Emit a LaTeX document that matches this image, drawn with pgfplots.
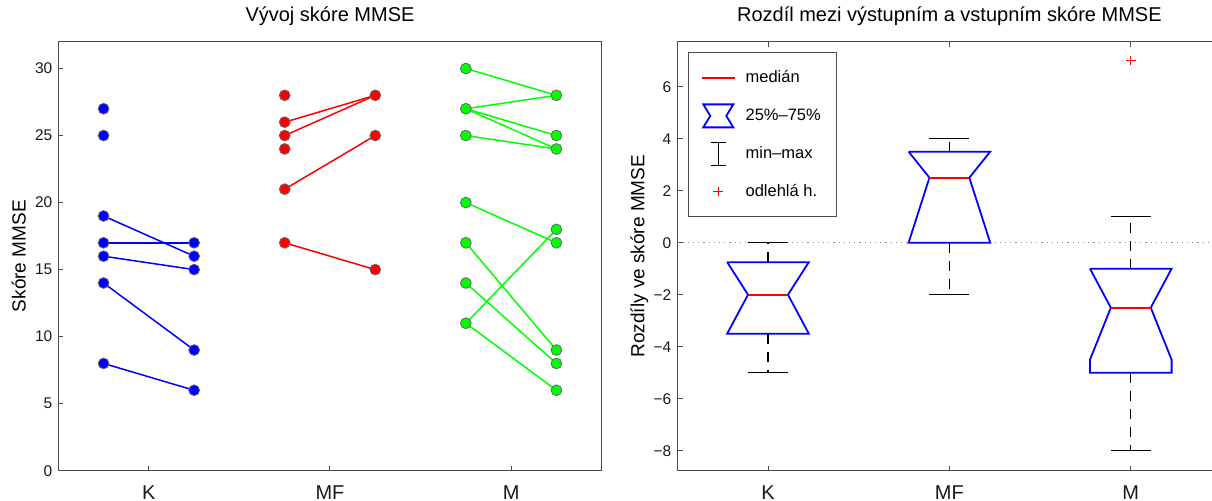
\documentclass[border=0pt]{standalone}
\usepackage{fontspec}
\setmainfont{Liberation Sans}
\usepackage{pgfplots}
\pgfplotsset{compat=1.18}
\begin{document}
\begin{tikzpicture}
\pgfplotsset{
  mlab/.style={scale only axis, anchor=south west, height=214.5pt,
    axis line style={black!70, line width=0.6pt},
    tick style={black!70, line width=0.5pt},
    tick align=inside, major tick length=2.6pt,
    xmin=0.5, xmax=3.5, xtick={1,2,3}, xticklabels={K,MF,M},
    xticklabel style={font=\fontsize{10}{12}\selectfont, anchor=base, yshift=-14.4pt, text=black!90},
    yticklabel style={font=\fontsize{7.75}{9}\selectfont, inner xsep=2.8pt, text=black!90},
    title style={font=\fontsize{10}{12}\selectfont, at={(0.5,1)}, anchor=base, yshift=4.2pt},
    ylabel style={font=\fontsize{9.5}{11}\selectfont, anchor=base},
  },
  pair/.style={no marks, line width=0.75pt, forget plot},
  dot/.style={only marks, mark=*, mark size=2.7pt, forget plot,
    mark options={draw=black!60, line width=0.4pt, fill=#1}},
  whisk/.style={black, line width=0.6pt, dash pattern=on 5pt off 4pt, no marks, forget plot},
  cap/.style={black, line width=0.6pt, no marks, forget plot},
  nbox/.style={blue, line width=0.9pt, no marks, forget plot},
  med/.style={red, line width=0.9pt, no marks, forget plot},
}
% ---------------- left: scores before / after
\begin{axis}[mlab, at={(29.15pt,14.65pt)}, width=271.7pt,
  ymin=0, ymax=32, ytick={0,5,...,30}, yticklabels={0,5,10,15,20,25,30},
  tick pos=left,
  title={Vývoj skóre MMSE}, ylabel={Skóre MMSE},
  ylabel style={at={(axis description cs:-0.06,0.5)}}]
% K
\addplot[pair, blue] coordinates {(0.75,19) (1.25,16)};
\addplot[pair, blue] coordinates {(0.75,17) (1.25,17)};
\addplot[pair, blue] coordinates {(0.75,16) (1.25,15)};
\addplot[pair, blue] coordinates {(0.75,14) (1.25,9)};
\addplot[pair, blue] coordinates {(0.75,8) (1.25,6)};
% MF
\addplot[pair, red] coordinates {(1.75,26) (2.25,28)};
\addplot[pair, red] coordinates {(1.75,25) (2.25,28)};
\addplot[pair, red] coordinates {(1.75,21) (2.25,25)};
\addplot[pair, red] coordinates {(1.75,17) (2.25,15)};
% M
\addplot[pair, green] coordinates {(2.75,30) (3.25,28)};
\addplot[pair, green] coordinates {(2.75,27) (3.25,28)};
\addplot[pair, green] coordinates {(2.75,27) (3.25,25)};
\addplot[pair, green] coordinates {(2.75,27) (3.25,24)};
\addplot[pair, green] coordinates {(2.75,25) (3.25,24)};
\addplot[pair, green] coordinates {(2.75,20) (3.25,17)};
\addplot[pair, green] coordinates {(2.75,17) (3.25,9)};
\addplot[pair, green] coordinates {(2.75,14) (3.25,8)};
\addplot[pair, green] coordinates {(2.75,11) (3.25,6)};
\addplot[pair, green] coordinates {(2.75,11) (3.25,18)};
% points
\addplot[dot=blue] coordinates {(0.75,27) (0.75,25) (0.75,19) (0.75,17) (0.75,16) (0.75,14) (0.75,8)
  (1.25,17) (1.25,16) (1.25,15) (1.25,9) (1.25,6)};
\addplot[dot=red] coordinates {(1.75,28) (1.75,26) (1.75,25) (1.75,24) (1.75,21) (1.75,17)
  (2.25,28) (2.25,25) (2.25,15)};
\addplot[dot=green] coordinates {(2.75,30) (2.75,27) (2.75,25) (2.75,20) (2.75,17) (2.75,14) (2.75,11)
  (3.25,28) (3.25,25) (3.25,24) (3.25,18) (3.25,17) (3.25,9) (3.25,8) (3.25,6)};
\end{axis}
% ---------------- right: differences, notched boxes
\begin{axis}[mlab, at={(338.65pt,14.65pt)}, width=272.1pt,
  ymin=-8.77, ymax=7.73, ytick={-8,-6,...,6}, yticklabels={−8,−6,−4,−2,0,2,4,6},
  tick pos=both,
  title={Rozdíl mezi výstupním a vstupním skóre MMSE}, ylabel={Rozdíly ve skóre MMSE},
  ylabel style={at={(axis description cs:-0.0605,0.5)}},
  legend style={at={(0.0202,0.975)}, anchor=north west, draw=black!70, line width=0.5pt,
    font=\fontsize{8.25}{9.9}\selectfont, inner xsep=6pt, inner ysep=6.8pt, row sep=6.9pt,
    /tikz/every odd column/.append style={column sep=3pt}},
  legend cell align=left]
\addlegendimage{legend image code/.code={\draw[red, line width=0.9pt] (0pt,0pt) -- (16.5pt,0pt);}}
\addlegendentry{medián}
\addlegendimage{legend image code/.code={\draw[blue, line width=0.9pt] (0.8pt,5.75pt) -- (15.8pt,5.75pt) -- (12.3pt,0pt) -- (15.8pt,-5.75pt) -- (0.8pt,-5.75pt) -- (4.3pt,0pt) -- cycle;}}
\addlegendentry{25\%–75\%}
\addlegendimage{legend image code/.code={\draw[black, line width=0.6pt] (8.25pt,-5.75pt) -- (8.25pt,5.75pt) (4.5pt,5.75pt) -- (12pt,5.75pt) (4.5pt,-5.75pt) -- (12pt,-5.75pt);}}
\addlegendentry{min–max}
\addlegendimage{legend image code/.code={\draw[red, line width=0.6pt] (5.9pt,0pt) -- (10.6pt,0pt) (8.25pt,-2.35pt) -- (8.25pt,2.35pt);}}
\addlegendentry{odlehlá h.}
\addplot[black!45, dotted, line width=0.6pt, forget plot] coordinates {(0.5,0) (3.5,0)};
% whiskers
\addplot[whisk] coordinates {(1,-0.75) (1,0)};
\addplot[whisk] coordinates {(1,-3.5) (1,-5)};
\addplot[whisk] coordinates {(2,3.5) (2,4)};
\addplot[whisk] coordinates {(2,0) (2,-2)};
\addplot[whisk] coordinates {(3,-1) (3,1)};
\addplot[whisk] coordinates {(3,-5) (3,-8)};
\addplot[cap] coordinates {(0.89,0) (1.11,0)};
\addplot[cap] coordinates {(0.89,-5) (1.11,-5)};
\addplot[cap] coordinates {(1.89,4) (2.11,4)};
\addplot[cap] coordinates {(1.89,-2) (2.11,-2)};
\addplot[cap] coordinates {(2.89,1) (3.11,1)};
\addplot[cap] coordinates {(2.89,-8) (3.11,-8)};
% notched boxes
\addplot[nbox] coordinates {(0.775,-0.75) (1.225,-0.75) (1.11,-2) (1.225,-3.5) (0.775,-3.5) (0.89,-2) (0.775,-0.75)};
\addplot[nbox] coordinates {(1.775,3.5) (2.225,3.5) (2.11,2.5) (2.225,0) (1.775,0) (1.89,2.5) (1.775,3.5)};
\addplot[nbox] coordinates {(2.775,-1) (3.225,-1) (3.11,-2.5) (3.225,-4.5) (3.225,-5) (2.775,-5) (2.775,-4.5) (2.89,-2.5) (2.775,-1)};
% medians
\addplot[med] coordinates {(0.89,-2) (1.11,-2)};
\addplot[med] coordinates {(1.89,2.5) (2.11,2.5)};
\addplot[med] coordinates {(2.89,-2.5) (3.11,-2.5)};
% outlier
\addplot[only marks, mark=+, mark size=2.35pt, red, mark options={line width=0.6pt}, forget plot] coordinates {(3,7)};
\end{axis}
\pgfresetboundingbox
\path (0pt,0pt) rectangle (606pt,250pt);
\end{tikzpicture}
\end{document}
